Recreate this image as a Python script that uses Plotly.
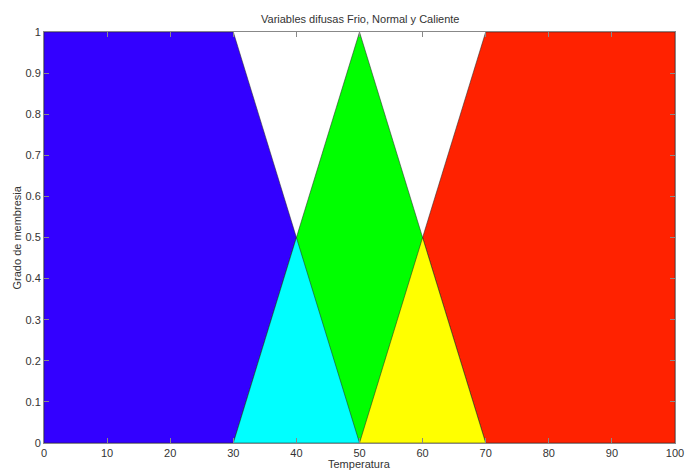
import plotly.graph_objects as go

# Membership function polygons (Temperatura, Grado de membresia)
frio_x = [0, 0, 30, 50, 0]
frio_y = [0, 1, 1, 0, 0]
normal_x = [30, 50, 70, 30]
normal_y = [0, 1, 0, 0]
caliente_x = [50, 70, 100, 100, 50]
caliente_y = [0, 1, 1, 0, 0]
# overlap regions
frio_normal_x = [30, 40, 50, 30]
frio_normal_y = [0, 0.5, 0, 0]
normal_caliente_x = [50, 60, 70, 50]
normal_caliente_y = [0, 0.5, 0, 0]

x_ticks = [0, 10, 20, 30, 40, 50, 60, 70, 80, 90, 100]
y_ticks = [0, 0.1, 0.2, 0.3, 0.4, 0.5, 0.6, 0.7, 0.8, 0.9, 1]
y_labels = ["0", "0.1", "0.2", "0.3", "0.4", "0.5", "0.6", "0.7", "0.8", "0.9", "1"]

shapes = [
    (frio_x, frio_y, "#3300FF"),
    (caliente_x, caliente_y, "#FF2200"),
    (normal_x, normal_y, "#00FF00"),
    (frio_normal_x, frio_normal_y, "#00FFFF"),
    (normal_caliente_x, normal_caliente_y, "#FFFF00"),
]

W, H = 685, 470
ML, MR, MT, MB = 44, 10, 32, 27
FONT = dict(family="Liberation Sans, Arial", size=11, color="#333333")

fig = go.Figure()
for xs, ys, c in shapes:
    fig.add_trace(go.Scatter(x=xs, y=ys, mode="lines", fill="toself",
                             fillcolor=c, line=dict(color="rgba(40,40,40,0.9)", width=0.6),
                             hoverinfo="skip", showlegend=False))

axis_common = dict(showgrid=False, zeroline=False, showline=True, linecolor="#888888",
                   linewidth=1, mirror="ticks", ticks="inside", ticklen=5, tickcolor="#888888",
                   automargin=False, tickfont=FONT)

fig.update_layout(
    width=W, height=H,
    margin=dict(l=ML, r=MR, t=MT, b=MB, autoexpand=False),
    paper_bgcolor="white", plot_bgcolor="white",
    xaxis=dict(range=[0, 100], tickvals=x_ticks, ticktext=[str(t) for t in x_ticks],
               **axis_common),
    yaxis=dict(range=[0, 1], tickvals=y_ticks, ticktext=y_labels, **axis_common),
    annotations=[
        dict(text="Variables difusas Frio, Normal y Caliente", xref="paper", yref="paper",
             x=0.5, y=1 + 13 / (H - MT - MB), xanchor="center", yanchor="middle",
             showarrow=False, font=FONT),
        dict(text="Temperatura", xref="paper", yref="paper",
             x=0.5, y=-(464 - (H - MB)) / (H - MT - MB), xanchor="center", yanchor="middle",
             showarrow=False, font=FONT),
        dict(text="Grado de membresia", xref="paper", yref="paper", textangle=-90,
             x=-(ML - 16) / (W - ML - MR), y=0.5, xanchor="center", yanchor="middle",
             showarrow=False, font=FONT),
    ],
)

fig.write_html("out.html", config={"displayModeBar": False},
               post_script="document.body.style.margin='0';document.body.style.overflow='hidden';")
